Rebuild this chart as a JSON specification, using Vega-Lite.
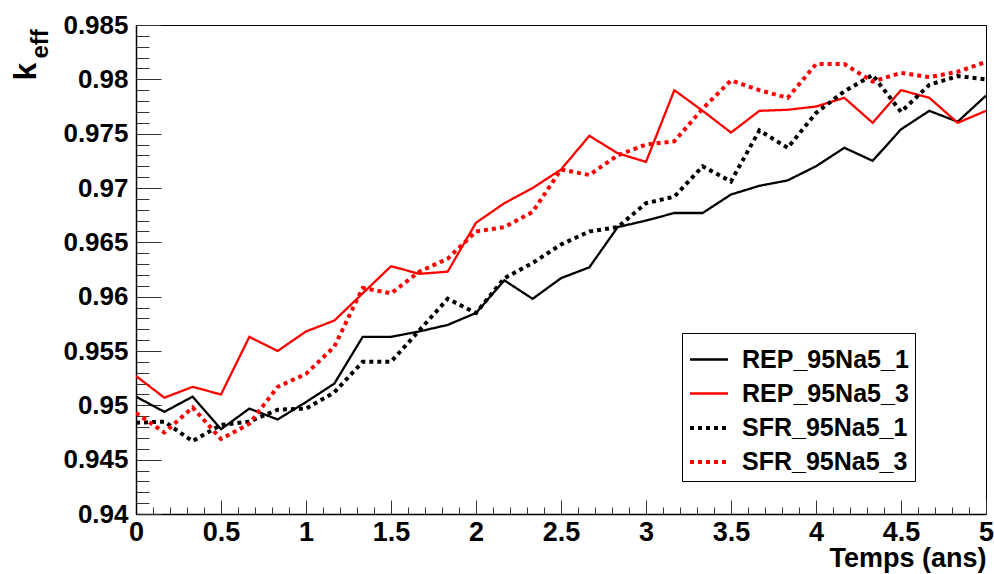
{
  "$schema": "https://vega.github.io/schema/vega-lite/v6.json",
  "width": 850,
  "height": 489,
  "autosize": {"type": "none"},
  "padding": {"left": 136, "top": 25, "right": 8, "bottom": 60},
  "background": "white",
  "config": {
    "view": {"stroke": "#000", "strokeWidth": 1},
    "font": "Liberation Sans",
    "axis": {"grid": false, "labelFont": "Liberation Sans", "titleFont": "Liberation Sans", "labelFontWeight": "bold", "titleFontWeight": "bold", "labelColor": "#000", "titleColor": "#000", "domainColor": "#000", "tickColor": "#333", "labelOverlap": false, "labelFlush": false, "labelBound": false},
    "legend": {"orient": "none", "legendX": 546, "legendY": 308, "strokeColor": "#000", "fillColor": "#fff", "padding": 6, "symbolType": "stroke", "symbolSize": 1444, "rowPadding": -4, "labelFont": "Liberation Sans", "labelFontWeight": "bold", "labelFontSize": 25, "labelColor": "#000", "labelOffset": 12, "labelLimit": 400}
  },
  "data": {"values": [
    {"t":0,"s":"REP_95Na5_1","k":0.9508},{"t":0.1667,"s":"REP_95Na5_1","k":0.9494},{"t":0.3333,"s":"REP_95Na5_1","k":0.9508},{"t":0.5,"s":"REP_95Na5_1","k":0.9478},{"t":0.6667,"s":"REP_95Na5_1","k":0.9497},{"t":0.8333,"s":"REP_95Na5_1","k":0.9487},{"t":1,"s":"REP_95Na5_1","k":0.9503},{"t":1.1667,"s":"REP_95Na5_1","k":0.952},{"t":1.3333,"s":"REP_95Na5_1","k":0.9563},{"t":1.5,"s":"REP_95Na5_1","k":0.9563},{"t":1.6667,"s":"REP_95Na5_1","k":0.9568},{"t":1.8333,"s":"REP_95Na5_1","k":0.9574},{"t":2,"s":"REP_95Na5_1","k":0.9585},{"t":2.1667,"s":"REP_95Na5_1","k":0.9615},{"t":2.3333,"s":"REP_95Na5_1","k":0.9598},{"t":2.5,"s":"REP_95Na5_1","k":0.9617},{"t":2.6667,"s":"REP_95Na5_1","k":0.9627},{"t":2.8333,"s":"REP_95Na5_1","k":0.9664},{"t":3,"s":"REP_95Na5_1","k":0.967},{"t":3.1667,"s":"REP_95Na5_1","k":0.9677},{"t":3.3333,"s":"REP_95Na5_1","k":0.9677},{"t":3.5,"s":"REP_95Na5_1","k":0.9694},{"t":3.6667,"s":"REP_95Na5_1","k":0.9702},{"t":3.8333,"s":"REP_95Na5_1","k":0.9707},{"t":4,"s":"REP_95Na5_1","k":0.972},{"t":4.1667,"s":"REP_95Na5_1","k":0.9737},{"t":4.3333,"s":"REP_95Na5_1","k":0.9725},{"t":4.5,"s":"REP_95Na5_1","k":0.9754},{"t":4.6667,"s":"REP_95Na5_1","k":0.9771},{"t":4.8333,"s":"REP_95Na5_1","k":0.9761},{"t":5,"s":"REP_95Na5_1","k":0.9785},
    {"t":0,"s":"REP_95Na5_3","k":0.9527},{"t":0.1667,"s":"REP_95Na5_3","k":0.9507},{"t":0.3333,"s":"REP_95Na5_3","k":0.9517},{"t":0.5,"s":"REP_95Na5_3","k":0.951},{"t":0.6667,"s":"REP_95Na5_3","k":0.9563},{"t":0.8333,"s":"REP_95Na5_3","k":0.955},{"t":1,"s":"REP_95Na5_3","k":0.9568},{"t":1.1667,"s":"REP_95Na5_3","k":0.9578},{"t":1.3333,"s":"REP_95Na5_3","k":0.9603},{"t":1.5,"s":"REP_95Na5_3","k":0.9628},{"t":1.6667,"s":"REP_95Na5_3","k":0.9621},{"t":1.8333,"s":"REP_95Na5_3","k":0.9623},{"t":2,"s":"REP_95Na5_3","k":0.9668},{"t":2.1667,"s":"REP_95Na5_3","k":0.9686},{"t":2.3333,"s":"REP_95Na5_3","k":0.97},{"t":2.5,"s":"REP_95Na5_3","k":0.9717},{"t":2.6667,"s":"REP_95Na5_3","k":0.9748},{"t":2.8333,"s":"REP_95Na5_3","k":0.9732},{"t":3,"s":"REP_95Na5_3","k":0.9724},{"t":3.1667,"s":"REP_95Na5_3","k":0.979},{"t":3.3333,"s":"REP_95Na5_3","k":0.9771},{"t":3.5,"s":"REP_95Na5_3","k":0.9751},{"t":3.6667,"s":"REP_95Na5_3","k":0.9771},{"t":3.8333,"s":"REP_95Na5_3","k":0.9772},{"t":4,"s":"REP_95Na5_3","k":0.9775},{"t":4.1667,"s":"REP_95Na5_3","k":0.9783},{"t":4.3333,"s":"REP_95Na5_3","k":0.976},{"t":4.5,"s":"REP_95Na5_3","k":0.979},{"t":4.6667,"s":"REP_95Na5_3","k":0.9783},{"t":4.8333,"s":"REP_95Na5_3","k":0.976},{"t":5,"s":"REP_95Na5_3","k":0.9771},
    {"t":0,"s":"SFR_95Na5_1","k":0.9484},{"t":0.1667,"s":"SFR_95Na5_1","k":0.9485},{"t":0.3333,"s":"SFR_95Na5_1","k":0.9467},{"t":0.5,"s":"SFR_95Na5_1","k":0.9482},{"t":0.6667,"s":"SFR_95Na5_1","k":0.9485},{"t":0.8333,"s":"SFR_95Na5_1","k":0.9496},{"t":1,"s":"SFR_95Na5_1","k":0.9497},{"t":1.1667,"s":"SFR_95Na5_1","k":0.9512},{"t":1.3333,"s":"SFR_95Na5_1","k":0.954},{"t":1.5,"s":"SFR_95Na5_1","k":0.954},{"t":1.6667,"s":"SFR_95Na5_1","k":0.9569},{"t":1.8333,"s":"SFR_95Na5_1","k":0.9598},{"t":2,"s":"SFR_95Na5_1","k":0.9585},{"t":2.1667,"s":"SFR_95Na5_1","k":0.9617},{"t":2.3333,"s":"SFR_95Na5_1","k":0.9631},{"t":2.5,"s":"SFR_95Na5_1","k":0.9648},{"t":2.6667,"s":"SFR_95Na5_1","k":0.966},{"t":2.8333,"s":"SFR_95Na5_1","k":0.9664},{"t":3,"s":"SFR_95Na5_1","k":0.9686},{"t":3.1667,"s":"SFR_95Na5_1","k":0.9692},{"t":3.3333,"s":"SFR_95Na5_1","k":0.972},{"t":3.5,"s":"SFR_95Na5_1","k":0.9706},{"t":3.6667,"s":"SFR_95Na5_1","k":0.9753},{"t":3.8333,"s":"SFR_95Na5_1","k":0.9737},{"t":4,"s":"SFR_95Na5_1","k":0.9769},{"t":4.1667,"s":"SFR_95Na5_1","k":0.9789},{"t":4.3333,"s":"SFR_95Na5_1","k":0.9804},{"t":4.5,"s":"SFR_95Na5_1","k":0.977},{"t":4.6667,"s":"SFR_95Na5_1","k":0.9795},{"t":4.8333,"s":"SFR_95Na5_1","k":0.9803},{"t":5,"s":"SFR_95Na5_1","k":0.98},
    {"t":0,"s":"SFR_95Na5_3","k":0.9493},{"t":0.1667,"s":"SFR_95Na5_3","k":0.9475},{"t":0.3333,"s":"SFR_95Na5_3","k":0.9498},{"t":0.5,"s":"SFR_95Na5_3","k":0.9469},{"t":0.6667,"s":"SFR_95Na5_3","k":0.9483},{"t":0.8333,"s":"SFR_95Na5_3","k":0.9517},{"t":1,"s":"SFR_95Na5_3","k":0.9529},{"t":1.1667,"s":"SFR_95Na5_3","k":0.9554},{"t":1.3333,"s":"SFR_95Na5_3","k":0.9608},{"t":1.5,"s":"SFR_95Na5_3","k":0.9603},{"t":1.6667,"s":"SFR_95Na5_3","k":0.9623},{"t":1.8333,"s":"SFR_95Na5_3","k":0.9635},{"t":2,"s":"SFR_95Na5_3","k":0.966},{"t":2.1667,"s":"SFR_95Na5_3","k":0.9664},{"t":2.3333,"s":"SFR_95Na5_3","k":0.9678},{"t":2.5,"s":"SFR_95Na5_3","k":0.9717},{"t":2.6667,"s":"SFR_95Na5_3","k":0.9712},{"t":2.8333,"s":"SFR_95Na5_3","k":0.973},{"t":3,"s":"SFR_95Na5_3","k":0.974},{"t":3.1667,"s":"SFR_95Na5_3","k":0.9743},{"t":3.3333,"s":"SFR_95Na5_3","k":0.9773},{"t":3.5,"s":"SFR_95Na5_3","k":0.9799},{"t":3.6667,"s":"SFR_95Na5_3","k":0.979},{"t":3.8333,"s":"SFR_95Na5_3","k":0.9783},{"t":4,"s":"SFR_95Na5_3","k":0.9814},{"t":4.1667,"s":"SFR_95Na5_3","k":0.9814},{"t":4.3333,"s":"SFR_95Na5_3","k":0.9798},{"t":4.5,"s":"SFR_95Na5_3","k":0.9806},{"t":4.6667,"s":"SFR_95Na5_3","k":0.9802},{"t":4.8333,"s":"SFR_95Na5_3","k":0.9807},{"t":5,"s":"SFR_95Na5_3","k":0.9816}
  ]},
  "resolve": {"axis": {"x": "independent", "y": "independent"}},
  "layer": [
    {
      "mark": {"type": "point", "opacity": 0},
      "encoding": {
        "x": {"field": "t", "type": "quantitative", "scale": {"domain": [0, 5], "nice": false, "zero": false},
          "axis": {"orient": "bottom", "values": [0.1,0.2,0.3,0.4,0.6,0.7,0.8,0.9,1.1,1.2,1.3,1.4,1.6,1.7,1.8,1.9,2.1,2.2,2.3,2.4,2.6,2.7,2.8,2.9,3.1,3.2,3.3,3.4,3.6,3.7,3.8,3.9,4.1,4.2,4.3,4.4,4.6,4.7,4.8,4.9], "tickSize": -7, "labels": false, "domain": false, "title": null}},
        "y": {"field": "k", "type": "quantitative", "scale": {"domain": [0.94, 0.985], "nice": false, "zero": false},
          "axis": {"orient": "left", "values": [0.941,0.942,0.943,0.944,0.946,0.947,0.948,0.949,0.951,0.952,0.953,0.954,0.956,0.957,0.958,0.959,0.961,0.962,0.963,0.964,0.966,0.967,0.968,0.969,0.971,0.972,0.973,0.974,0.976,0.977,0.978,0.979,0.981,0.982,0.983,0.984], "tickSize": -13, "labels": false, "domain": false, "title": null}}
      }
    },
    {
      "mark": {"type": "point", "opacity": 0},
      "encoding": {
        "x": {"field": "t", "type": "quantitative",
          "axis": {"orient": "bottom", "values": [0,0.5,1,1.5,2,2.5,3,3.5,4,4.5,5], "tickSize": -14, "labels": false, "domain": false, "title": null}},
        "y": {"field": "k", "type": "quantitative",
          "axis": {"orient": "left", "values": [0.94,0.945,0.95,0.955,0.96,0.965,0.97,0.975,0.98,0.985], "tickSize": -25, "labels": false, "domain": false,
            "title": "eff", "titleFontSize": 24, "titleAngle": -90, "titleAlign": "left", "titleBaseline": "alphabetic", "titleX": -89, "titleY": 33}}
      }
    },
    {
      "mark": {"type": "line", "clip": true},
      "encoding": {
        "x": {"field": "t", "type": "quantitative",
          "axis": {"orient": "bottom", "values": [0,0.5,1,1.5,2,2.5,3,3.5,4,4.5,5], "ticks": false, "labelFontSize": 27, "labelPadding": 5, "labelExpr": "'' + datum.value", "domainWidth": 1.5,
            "title": "Temps (ans)", "titleFontSize": 27, "titleAnchor": "end", "titlePadding": 0}},
        "y": {"field": "k", "type": "quantitative",
          "axis": {"orient": "left", "values": [0.94,0.945,0.95,0.955,0.96,0.965,0.97,0.975,0.98,0.985], "ticks": false, "labelFontSize": 26, "labelPadding": 8, "labelExpr": "'' + datum.value", "domainWidth": 1.5,
            "title": "k", "titleFontSize": 32, "titleAngle": -90, "titleAlign": "left", "titleBaseline": "alphabetic", "titleX": -101, "titleY": 55}},
        "color": {"field": "s", "type": "nominal", "title": null,
          "scale": {"domain": ["REP_95Na5_1","REP_95Na5_3","SFR_95Na5_1","SFR_95Na5_3"], "range": ["#000000","#ff0000","#000000","#ff0000"]}},
        "strokeDash": {"field": "s", "type": "nominal", "title": null,
          "scale": {"domain": ["REP_95Na5_1","REP_95Na5_3","SFR_95Na5_1","SFR_95Na5_3"], "range": [[1,0],[1,0],[4,4],[4,4]]}},
        "strokeWidth": {"field": "s", "type": "nominal", "title": null,
          "scale": {"type": "ordinal", "domain": ["REP_95Na5_1","REP_95Na5_3","SFR_95Na5_1","SFR_95Na5_3"], "range": [2.3,2.3,4,4]}}
      }
    }
  ]
}
